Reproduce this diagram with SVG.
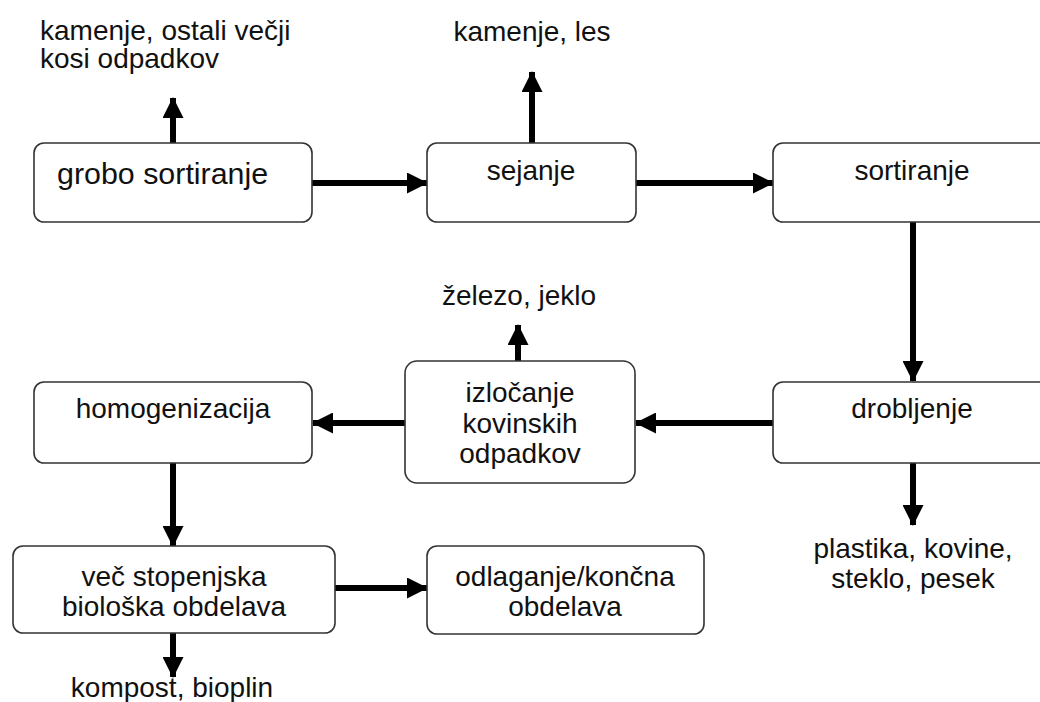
<svg xmlns="http://www.w3.org/2000/svg" width="1040" height="702" viewBox="0 0 1040 702">
<style>
.box{fill:#fff;stroke:#333;stroke-width:1.6}
.t{font-family:"Liberation Sans",Arial,sans-serif;font-size:28px;fill:#111}
.c{text-anchor:middle}
.ln{stroke:#000;stroke-width:6;fill:none}
</style>
<defs>
<marker id="ah" markerUnits="userSpaceOnUse" markerWidth="21" markerHeight="21" refX="20" refY="10.5" orient="auto">
<path d="M0,0 L21,10.5 L0,21 z" fill="#000"/>
</marker>
</defs>
<rect width="1040" height="702" fill="#fff"/>
<g id="connectors">
<line class="ln" x1="173" y1="143" x2="173" y2="98" marker-end="url(#ah)"/>
<line class="ln" x1="312" y1="183" x2="427" y2="183" marker-end="url(#ah)"/>
<line class="ln" x1="532" y1="143" x2="532" y2="72" marker-end="url(#ah)"/>
<line class="ln" x1="636" y1="183" x2="773" y2="183" marker-end="url(#ah)"/>
<line class="ln" x1="913" y1="222" x2="913" y2="381" marker-end="url(#ah)"/>
<line class="ln" x1="773" y1="423" x2="636" y2="423" marker-end="url(#ah)"/>
<line class="ln" x1="518" y1="361" x2="518" y2="325" marker-end="url(#ah)"/>
<line class="ln" x1="405" y1="423" x2="313" y2="423" marker-end="url(#ah)"/>
<line class="ln" x1="173" y1="463" x2="173" y2="546" marker-end="url(#ah)"/>
<line class="ln" x1="173" y1="633" x2="173" y2="677" marker-end="url(#ah)"/>
<line class="ln" x1="335" y1="588" x2="427" y2="588" marker-end="url(#ah)"/>
<line class="ln" x1="913" y1="463" x2="913" y2="525" marker-end="url(#ah)"/>
</g>
<g id="out1"><text class="t" x="40" y="40">kamenje, ostali večji</text><text class="t" x="40" y="68">kosi odpadkov</text></g>
<g id="out2"><text class="t c" x="532" y="41">kamenje, les</text></g>
<g id="grobo"><rect class="box" x="34" y="143" width="278" height="79" rx="10"/><text class="t" x="57" y="184" style="font-size:30.4px">grobo sortiranje</text></g>
<g id="sejanje"><rect class="box" x="427" y="143" width="209" height="79" rx="10"/><text class="t c" x="531" y="180">sejanje</text></g>
<g id="sortiranje"><rect class="box" x="773" y="143" width="290" height="79" rx="10"/><text class="t c" x="912" y="180">sortiranje</text></g>
<g id="out3"><text class="t c" x="519" y="305">železo, jeklo</text></g>
<g id="homogenizacija"><rect class="box" x="34" y="382" width="278" height="81" rx="10"/><text class="t c" x="173" y="418">homogenizacija</text></g>
<g id="izlocanje"><rect class="box" x="405" y="361" width="230" height="122" rx="12"/><text class="t c" x="520" y="402">izločanje</text><text class="t c" x="520" y="433">kovinskih</text><text class="t c" x="520" y="463">odpadkov</text></g>
<g id="drobljenje"><rect class="box" x="773" y="382" width="290" height="81" rx="10"/><text class="t c" x="912" y="418">drobljenje</text></g>
<g id="out4"><text class="t c" x="913" y="558">plastika, kovine,</text><text class="t c" x="913" y="588">steklo, pesek</text></g>
<g id="vec"><rect class="box" x="13" y="546" width="322" height="87" rx="10"/><text class="t c" x="174" y="586">več stopenjska</text><text class="t c" x="174" y="616">biološka obdelava</text></g>
<g id="odlaganje"><rect class="box" x="427" y="546" width="277" height="88" rx="10"/><text class="t c" x="565" y="586">odlaganje/končna</text><text class="t c" x="565" y="616">obdelava</text></g>
<g id="out5"><text class="t c" x="172" y="697">kompost, bioplin</text></g>
</svg>
